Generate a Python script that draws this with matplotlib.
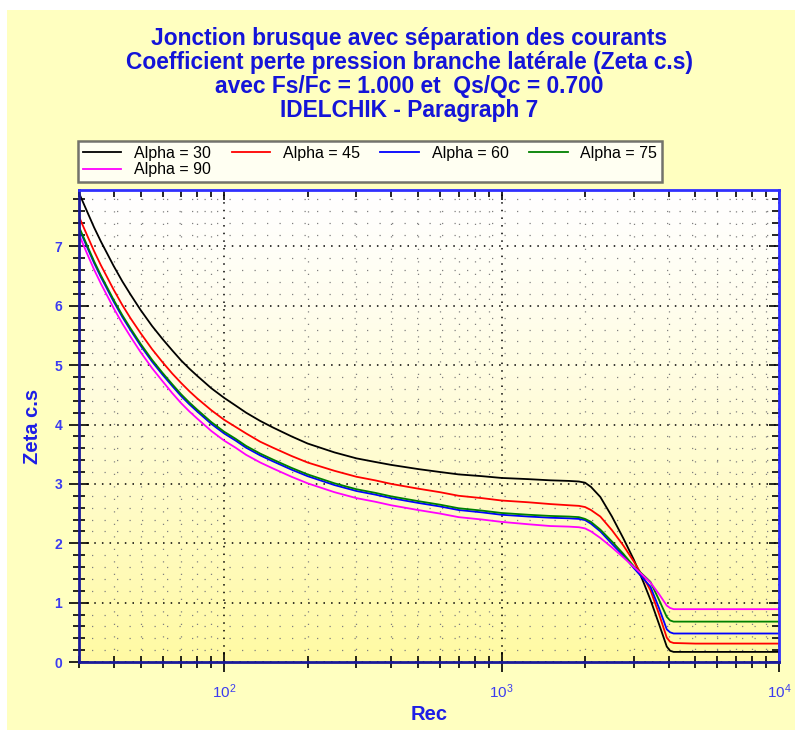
import numpy as np
import matplotlib
matplotlib.use("Agg")
import matplotlib.pyplot as plt
from matplotlib.patches import Rectangle
from matplotlib.ticker import LogLocator, MultipleLocator, NullFormatter

plt.rcParams['font.family'] = ['Liberation Sans', 'DejaVu Sans']

# Reynolds number (Rec) sample points
rec = [30, 32, 34, 36, 38, 40, 43, 46, 50, 55, 60, 65, 70, 75, 80, 90, 100, 110, 120, 135,
       150, 175, 200, 250, 300, 350, 400, 500, 600, 700, 850, 1000, 1250, 1500, 1750, 1900,
       2000, 2100, 2270, 2500, 2750, 3000, 3250, 3440, 3700, 3940, 4050, 4170, 5000, 10000]

# Zeta c.s for each branch angle
zeta_30 = [7.90, 7.60, 7.32, 7.08, 6.87, 6.67, 6.41, 6.19, 5.93, 5.66, 5.44, 5.25, 5.08,
           4.94, 4.82, 4.61, 4.45, 4.32, 4.20, 4.06, 3.95, 3.80, 3.68, 3.53, 3.43, 3.37,
           3.32, 3.25, 3.20, 3.16, 3.13, 3.10, 3.08, 3.06, 3.05, 3.04,
           3.02, 2.95, 2.78, 2.45, 2.08, 1.72, 1.34, 1.05, 0.63, 0.26, 0.19, 0.17, 0.17, 0.17]
zeta_45 = [7.50, 7.20, 6.92, 6.68, 6.47, 6.27, 6.01, 5.79, 5.54, 5.27, 5.05, 4.86, 4.70,
           4.56, 4.44, 4.24, 4.08, 3.96, 3.85, 3.71, 3.61, 3.47, 3.36, 3.22, 3.12, 3.06,
           3.00, 2.92, 2.86, 2.80, 2.76, 2.72, 2.69, 2.66, 2.64, 2.63,
           2.61, 2.56, 2.45, 2.22, 1.96, 1.69, 1.42, 1.21, 0.80, 0.41, 0.34, 0.32, 0.31, 0.31]
zeta_60 = [7.30, 7.00, 6.72, 6.48, 6.27, 6.07, 5.81, 5.59, 5.33, 5.06, 4.84, 4.65, 4.48,
           4.34, 4.22, 4.01, 3.85, 3.73, 3.61, 3.48, 3.38, 3.24, 3.13, 2.98, 2.88, 2.82,
           2.76, 2.68, 2.62, 2.56, 2.52, 2.48, 2.45, 2.43, 2.42, 2.41,
           2.39, 2.33, 2.20, 1.99, 1.79, 1.58, 1.40, 1.27, 0.90, 0.55, 0.50, 0.48, 0.48, 0.48]
zeta_75 = [7.33, 7.03, 6.75, 6.51, 6.30, 6.10, 5.84, 5.62, 5.36, 5.09, 4.87, 4.68, 4.51,
           4.37, 4.25, 4.04, 3.88, 3.76, 3.64, 3.51, 3.41, 3.27, 3.16, 3.01, 2.91, 2.85,
           2.79, 2.71, 2.65, 2.59, 2.55, 2.51, 2.48, 2.46, 2.45, 2.44,
           2.41, 2.36, 2.23, 2.03, 1.82, 1.61, 1.46, 1.35, 1.04, 0.76, 0.70, 0.68, 0.68, 0.68]
zeta_90 = [7.20, 6.89, 6.61, 6.37, 6.16, 5.96, 5.70, 5.48, 5.22, 4.95, 4.73, 4.53, 4.36,
           4.22, 4.10, 3.89, 3.73, 3.61, 3.49, 3.36, 3.26, 3.12, 3.01, 2.86, 2.76, 2.70,
           2.64, 2.56, 2.50, 2.44, 2.40, 2.36, 2.32, 2.29, 2.28, 2.27,
           2.25, 2.20, 2.09, 1.93, 1.76, 1.60, 1.45, 1.34, 1.14, 0.95, 0.91, 0.89, 0.89, 0.89]

series = [
    ("Alpha = 30", zeta_30, "black"),
    ("Alpha = 45", zeta_45, "#FF0000"),
    ("Alpha = 60", zeta_60, "#0000FF"),
    ("Alpha = 75", zeta_75, "#008000"),
    ("Alpha = 90", zeta_90, "#FF00FF"),
]

title_lines = [
    "Jonction brusque avec séparation des courants",
    "Coefficient perte pression branche latérale (Zeta c.s)",
    "avec Fs/Fc = 1.000 et  Qs/Qc = 0.700",
    "IDELCHIK - Paragraph 7",
]

W, H = 795, 736
fig = plt.figure(figsize=(W / 100, H / 100), dpi=100)
fig.patch.set_facecolor("white")

# yellow panel
fig.patches.append(Rectangle((7 / W, 1 - 730 / H), 1 - 7 / W, (730 - 10) / H,
                             transform=fig.transFigure, facecolor="#FFFFC0",
                             edgecolor="none", zorder=0))

left, right, top, bottom = 79, 779, 190, 662
pos = [left / W, 1 - bottom / H, (right - left) / W, (bottom - top) / H]

# gradient background behind plot
bg = fig.add_axes(pos, zorder=1)
grad = np.linspace(0, 1, 256)
cols = np.ones((256, 1, 3))
cols[:, 0, 2] = 1.0 - 0.36 * grad ** 1.2
cols[:, 0, 1] = 1.0 - 0.02 * grad
bg.imshow(cols, aspect="auto", extent=(0, 1, 0, 1), origin="upper")
bg.axis("off")

ax = fig.add_axes(pos, zorder=2)
ax.set_facecolor("none")

lines = []
for label, z, c in series:
    ln, = ax.plot(rec, z, color=c, lw=1.3, label=label)
    lines.append(ln)

ax.set_xscale("log")
ax.set_xlim(30, 10000)
ax.set_ylim(0, 7.95)
ax.yaxis.set_major_locator(MultipleLocator(1))
ax.yaxis.set_minor_locator(MultipleLocator(0.2))
ax.xaxis.set_major_locator(LogLocator(base=10))
ax.xaxis.set_minor_locator(LogLocator(base=10, subs=np.arange(2, 10)))
ax.xaxis.set_minor_formatter(NullFormatter())

ax.grid(which="major", color="black", linestyle=(0, (1, 4)), linewidth=1.1)
ax.grid(which="minor", color="#808080", linestyle=(0, (1, 9)), linewidth=0.9)

for s in ["left", "bottom"]:
    ax.spines[s].set_color("#1A1A9A")
    ax.spines[s].set_linewidth(2)
for s in ["top", "right"]:
    ax.spines[s].set_color("#3030FF")
    ax.spines[s].set_linewidth(2)

ax.tick_params(which="both", direction="inout", color="black", width=1.2)
ax.tick_params(which="major", length=14)
ax.tick_params(which="minor", length=8)
ax.tick_params(axis="y", which="major", labelcolor="#3C3CF0", labelsize=10, pad=5)
ax.tick_params(axis="x", which="major", labelcolor="#3C3CF0", labelsize=11, pad=8)
for t in ax.get_yticklabels():
    t.set_fontweight("bold")

# inward ticks on the top and right edges
top_ax = ax.secondary_xaxis("top")
top_ax.xaxis.set_major_locator(LogLocator(base=10))
top_ax.xaxis.set_minor_locator(LogLocator(base=10, subs=np.arange(2, 10)))
top_ax.tick_params(which="both", direction="in", labeltop=False, color="black", width=1.2)
top_ax.tick_params(which="major", length=7)
top_ax.tick_params(which="minor", length=5)
top_ax.xaxis.set_minor_formatter(NullFormatter())
top_ax.spines["top"].set_visible(False)

right_ax = ax.secondary_yaxis("right")
right_ax.yaxis.set_major_locator(MultipleLocator(1))
right_ax.yaxis.set_minor_locator(MultipleLocator(0.2))
right_ax.tick_params(which="both", direction="in", labelright=False, color="black", width=1.2)
right_ax.tick_params(which="major", length=7)
right_ax.tick_params(which="minor", length=5)
right_ax.spines["right"].set_visible(False)

fig.text(32 / W, 1 - 426 / H, "Zeta c.s", rotation=90, ha="center", va="center",
         color="#1E1EE6", fontsize=14.5, fontweight="bold")
fig.text(429 / W, 1 - 715 / H, "Rec", ha="center", va="center",
         color="#1E1EE6", fontsize=14.5, fontweight="bold")

for i, line in enumerate(title_lines):
    fig.text(409 / W, 1 - (38.5 + 24 * i) / H, line, ha="center", va="center",
             color="#1414D8", fontsize=16.4, fontweight="bold")

# row-major order: first row 30, 45, 60, 75 ; second row 90
order = [0, 4, 1, 2, 3]
leg = fig.legend(handles=[lines[i] for i in order], loc="upper left", ncol=4,
                 bbox_to_anchor=(78 / W, 1 - 141 / H),
                 borderaxespad=0, fontsize=11.5, frameon=True,
                 fancybox=False, handlelength=2.4, handletextpad=0.8,
                 columnspacing=1.3, labelspacing=0.1, borderpad=0.3)
leg.get_frame().set_edgecolor("#505050")
leg.get_frame().set_linewidth(1.8)
leg.get_frame().set_facecolor("white")
leg.set_zorder(5)

fig.savefig("out.png", dpi=100, facecolor=fig.get_facecolor())
